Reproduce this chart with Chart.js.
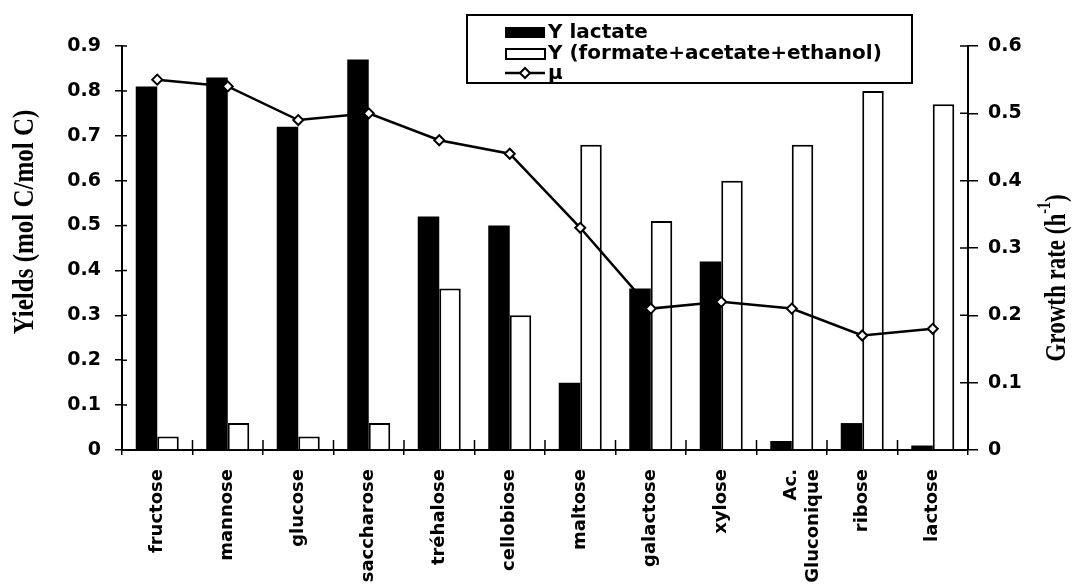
<!DOCTYPE html>
<html>
<head>
<meta charset="utf-8">
<script src="https://cdn.jsdelivr.net/npm/chart.js@4.4.0/dist/chart.umd.min.js"></script>
<style>
  html, body { margin: 0; padding: 0; background: #fff; }
  #wrap { width: 1074px; height: 587px; }
</style>
</head>
<body>
<div id="wrap"><canvas id="yieldChart" width="1074" height="587"></canvas></div>
<script>
// data
const substrates = ['fructose', 'mannose', 'glucose', 'saccharose', 'tréhalose', 'cellobiose',
  'maltose', 'galactose', 'xylose', ['Ac.', 'Gluconique'], 'ribose', 'lactose'];
const yLactate = [0.81, 0.83, 0.72, 0.87, 0.52, 0.50, 0.15, 0.36, 0.42, 0.02, 0.06, 0.01];
const yFormAcEth = [0.03, 0.06, 0.03, 0.06, 0.36, 0.30, 0.68, 0.51, 0.60, 0.68, 0.80, 0.77];
const growthRate = [0.55, 0.54, 0.49, 0.50, 0.46, 0.44, 0.33, 0.21, 0.22, 0.21, 0.17, 0.18];
const yieldTicks = ['0', '0.1', '0.2', '0.3', '0.4', '0.5', '0.6', '0.7', '0.8', '0.9'];
const rateTicks = ['0', '0.1', '0.2', '0.3', '0.4', '0.5', '0.6'];

Chart.defaults.font.family = '"DejaVu Sans", sans-serif';
Chart.defaults.font.weight = 'bold';
Chart.defaults.color = '#000';

// tick marks crossing the axis lines (inner half)
const crossTicks = {
  id: 'crossTicks',
  afterDraw(chart) {
    const ctx = chart.ctx;
    const { x, y, y1 } = chart.scales;
    ctx.save();
    ctx.strokeStyle = '#000';
    ctx.lineWidth = 1.5;
    ctx.beginPath();
    y.ticks.forEach((t, i) => {
      const py = y.getPixelForTick(i);
      ctx.moveTo(y.right, py); ctx.lineTo(y.right + 5, py);
    });
    y1.ticks.forEach((t, i) => {
      const py = y1.getPixelForTick(i);
      ctx.moveTo(y1.left, py); ctx.lineTo(y1.left - 8, py);
    });
    for (let i = 0; i <= substrates.length; i++) {
      const px = x.getPixelForValue(i - 0.5);
      ctx.moveTo(px, x.top); ctx.lineTo(px, x.top - 10);
    }
    ctx.stroke();
    ctx.restore();
  }
};

// both axis titles read bottom to top, right one has a superscript
const axisTitles = {
  id: 'axisTitles',
  afterDraw(chart) {
    const ctx = chart.ctx;
    ctx.save();
    ctx.fillStyle = '#000';
    ctx.font = 'bold 25px "Liberation Serif"';
    ctx.textAlign = 'center';
    ctx.textBaseline = 'middle';
    ctx.translate(26, 222);
    ctx.rotate(-Math.PI / 2);
    ctx.scale(1, 1.15);
    ctx.fillText('Yields (mol C/mol C)', 0, 0);
    ctx.restore();

    ctx.save();
    ctx.fillStyle = '#000';
    ctx.translate(1055, 278);
    ctx.rotate(-Math.PI / 2);
    ctx.scale(1, 1.3);
    const big = 'bold 23px "Liberation Serif"', small = 'bold 14px "Liberation Serif"';
    ctx.font = big;
    const w1 = ctx.measureText('Growth rate (h').width;
    const w3 = ctx.measureText(')').width;
    ctx.font = small;
    const w2 = ctx.measureText('-1').width;
    let sx = -(w1 + w2 + w3) / 2;
    ctx.textAlign = 'left';
    ctx.textBaseline = 'alphabetic';
    ctx.font = big;
    ctx.fillText('Growth rate (h', sx, 8);
    ctx.font = small;
    ctx.fillText('-1', sx + w1, -4);
    ctx.font = big;
    ctx.fillText(')', sx + w1 + w2, 8);
    ctx.restore();
  }
};

// boxed legend at the top
const boxLegend = {
  id: 'boxLegend',
  afterDraw(chart) {
    const ctx = chart.ctx;
    const ds = chart.data.datasets;
    ctx.save();
    ctx.lineWidth = 2;
    ctx.strokeStyle = '#000';
    ctx.fillStyle = '#fff';
    ctx.fillRect(467, 15, 445, 68);
    ctx.strokeRect(467, 15, 445, 68);

    ctx.fillStyle = '#000';
    ctx.fillRect(505, 27, 40, 11);
    ctx.strokeRect(506, 49, 39, 10);

    ctx.beginPath();
    ctx.moveTo(505, 73); ctx.lineTo(545, 73);
    ctx.lineWidth = 2.5;
    ctx.stroke();
    ctx.beginPath();
    ctx.moveTo(525, 68); ctx.lineTo(530, 73); ctx.lineTo(525, 78); ctx.lineTo(520, 73); ctx.closePath();
    ctx.fillStyle = '#fff';
    ctx.fill();
    ctx.lineWidth = 2;
    ctx.stroke();

    ctx.fillStyle = '#000';
    ctx.font = 'bold 20px "DejaVu Sans"';
    ctx.textAlign = 'left';
    ctx.textBaseline = 'alphabetic';
    ctx.fillText(ds[0].label, 548, 38);
    ctx.fillText(ds[1].label, 548, 59);
    ctx.fillText(ds[2].label, 548, 79);
    ctx.restore();
  }
};

new Chart(document.getElementById('yieldChart'), {
  data: {
    labels: substrates,
    datasets: [
      {
        type: 'bar',
        label: 'Y lactate',
        data: yLactate,
        backgroundColor: '#000',
        borderWidth: 0,
        yAxisID: 'y',
        order: 2
      },
      {
        type: 'bar',
        label: 'Y (formate+acetate+ethanol)',
        data: yFormAcEth,
        backgroundColor: '#fff',
        borderColor: '#000',
        borderWidth: 2,
        yAxisID: 'y',
        order: 2
      },
      {
        type: 'line',
        label: 'μ',
        data: growthRate,
        borderColor: '#000',
        borderWidth: 2.5,
        tension: 0,
        pointStyle: 'rectRot',
        pointRadius: 5,
        pointBackgroundColor: '#fff',
        pointBorderColor: '#000',
        pointBorderWidth: 2,
        yAxisID: 'y1',
        order: 1
      }
    ]
  },
  options: {
    responsive: false,
    animation: false,
    layout: { padding: { top: 46, left: 0, right: 0, bottom: 0 } },
    datasets: {
      bar: { categoryPercentage: 0.61, barPercentage: 1.0 }
    },
    plugins: {
      legend: { display: false },
      tooltip: { enabled: false }
    },
    scales: {
      x: {
        afterFit: s => { s.height = 137; },
        border: { color: '#000', width: 2 },
        grid: { offset: true, drawOnChartArea: false, tickLength: 5, color: '#000', lineWidth: 1.5 },
        ticks: {
          autoSkip: false,
          maxRotation: 90,
          minRotation: 90,
          padding: 14,
          font: { size: 18, weight: 'bold' },
          color: '#000'
        }
      },
      y: {
        position: 'left',
        min: 0,
        max: 0.9,
        afterFit: s => { s.width = 122; },
        border: { color: '#000', width: 2 },
        grid: { drawOnChartArea: false, tickLength: 7, color: '#000', lineWidth: 1.5 },
        ticks: {
          stepSize: 0.1,
          padding: 14,
          font: { size: 19, weight: 'bold' },
          color: '#000',
          callback: (v, i) => yieldTicks[i]
        }
      },
      y1: {
        position: 'right',
        min: 0,
        max: 0.6,
        afterFit: s => { s.width = 106; },
        border: { color: '#000', width: 2 },
        grid: { drawOnChartArea: false, tickLength: 10, color: '#000', lineWidth: 1.5 },
        ticks: {
          stepSize: 0.1,
          padding: 10,
          font: { size: 19, weight: 'bold' },
          color: '#000',
          callback: (v, i) => rateTicks[i]
        }
      }
    }
  },
  plugins: [crossTicks, axisTitles, boxLegend]
});
</script>
</body>
</html>
